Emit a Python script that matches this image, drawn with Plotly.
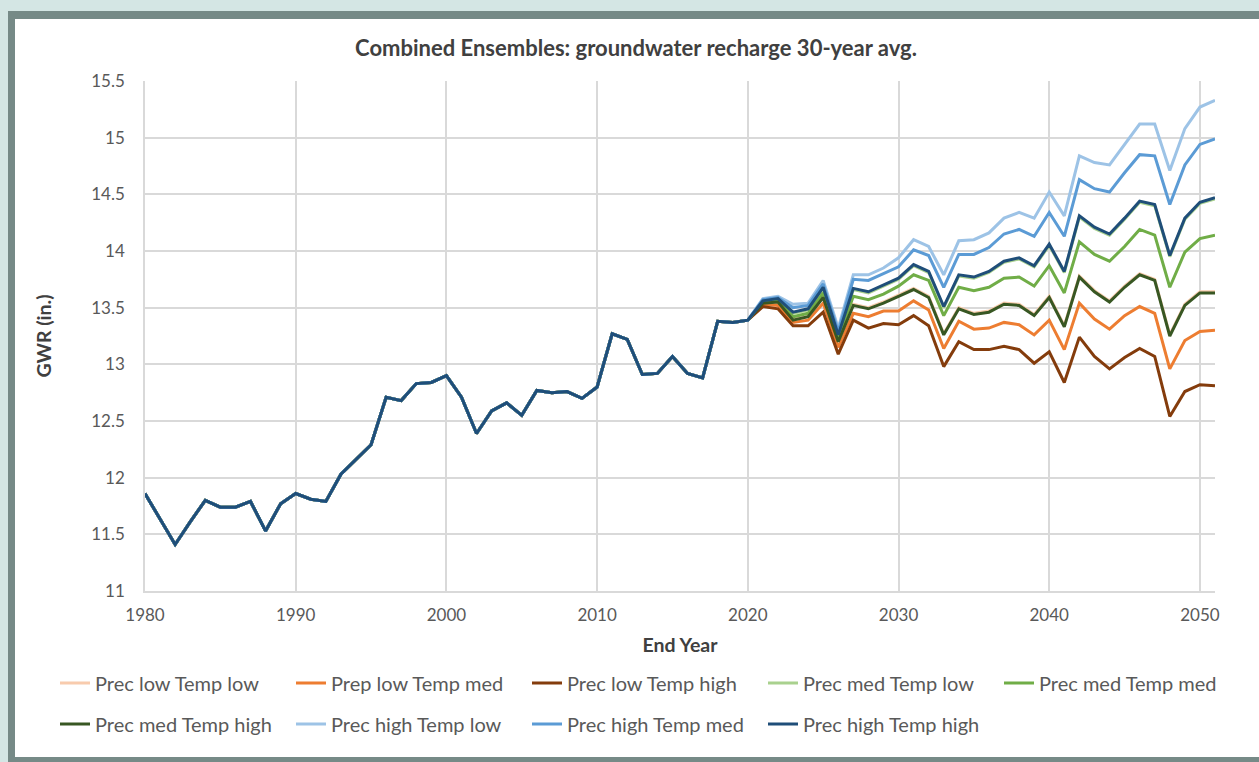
import plotly.graph_objects as go

# ---------------- data ----------------
hist_years = list(range(1980, 2021))
hist_values = [11.86, 11.64, 11.41, 11.61, 11.80, 11.74, 11.74, 11.79, 11.53, 11.77,
               11.86, 11.81, 11.79, 12.03, 12.16, 12.29, 12.71, 12.68, 12.83, 12.84,
               12.90, 12.71, 12.39, 12.59, 12.66, 12.55, 12.77, 12.75, 12.76, 12.70,
               12.80, 13.27, 13.22, 12.91, 12.92, 13.07, 12.92, 12.88, 13.38, 13.37,
               13.39]

future_years = list(range(2021, 2052))

prec_low_temp_low = [13.54, 13.55, 13.40, 13.42, 13.60, 13.21, 13.53, 13.50, 13.55, 13.61,
                     13.67, 13.60, 13.27, 13.50, 13.45, 13.47, 13.54, 13.53, 13.44, 13.60,
                     13.34, 13.78, 13.65, 13.56, 13.69, 13.80, 13.75, 13.26, 13.53, 13.64, 13.64]
prep_low_temp_med = [13.53, 13.52, 13.37, 13.39, 13.54, 13.15, 13.45, 13.42, 13.47, 13.47,
                     13.56, 13.48, 13.14, 13.38, 13.31, 13.32, 13.37, 13.35, 13.26, 13.39,
                     13.13, 13.54, 13.40, 13.31, 13.43, 13.51, 13.45, 12.96, 13.21, 13.29, 13.30]
prec_low_temp_high = [13.51, 13.49, 13.34, 13.34, 13.46, 13.09, 13.39, 13.32, 13.36, 13.35,
                      13.43, 13.34, 12.98, 13.20, 13.13, 13.13, 13.16, 13.13, 13.01, 13.11,
                      12.84, 13.24, 13.07, 12.96, 13.06, 13.14, 13.07, 12.54, 12.76, 12.82, 12.81]
prec_med_temp_low = [13.56, 13.57, 13.45, 13.48, 13.67, 13.25, 13.66, 13.63, 13.69, 13.75,
                     13.87, 13.81, 13.50, 13.78, 13.76, 13.81, 13.90, 13.93, 13.86, 14.05,
                     13.81, 14.30, 14.20, 14.14, 14.28, 14.43, 14.40, 13.95, 14.28, 14.42, 14.46]
prec_med_temp_med = [13.55, 13.57, 13.42, 13.45, 13.63, 13.23, 13.60, 13.57, 13.62, 13.69,
                     13.79, 13.74, 13.43, 13.68, 13.65, 13.68, 13.76, 13.77, 13.69, 13.87,
                     13.63, 14.08, 13.97, 13.91, 14.04, 14.19, 14.14, 13.68, 13.99, 14.11, 14.14]
prec_med_temp_high = [13.54, 13.55, 13.39, 13.42, 13.59, 13.20, 13.52, 13.49, 13.54, 13.60,
                      13.66, 13.59, 13.26, 13.49, 13.44, 13.46, 13.53, 13.52, 13.43, 13.59,
                      13.33, 13.77, 13.64, 13.55, 13.68, 13.79, 13.74, 13.25, 13.52, 13.63, 13.63]
prec_high_temp_low = [13.58, 13.60, 13.53, 13.54, 13.74, 13.32, 13.79, 13.79, 13.85, 13.94,
                      14.10, 14.04, 13.79, 14.09, 14.10, 14.16, 14.29, 14.34, 14.29, 14.52,
                      14.31, 14.84, 14.78, 14.76, 14.94, 15.12, 15.12, 14.71, 15.08, 15.27, 15.33]
prec_high_temp_med = [13.57, 13.59, 13.50, 13.52, 13.71, 13.29, 13.75, 13.74, 13.80, 13.86,
                      14.01, 13.96, 13.68, 13.97, 13.97, 14.03, 14.15, 14.19, 14.13, 14.34,
                      14.13, 14.63, 14.55, 14.52, 14.69, 14.85, 14.84, 14.41, 14.76, 14.94, 14.99]
prec_high_temp_high = [13.56, 13.58, 13.46, 13.49, 13.68, 13.26, 13.67, 13.64, 13.70, 13.76,
                       13.88, 13.82, 13.51, 13.79, 13.77, 13.82, 13.91, 13.94, 13.87, 14.06,
                       13.82, 14.31, 14.21, 14.15, 14.29, 14.44, 14.41, 13.96, 14.29, 14.43, 14.47]

series_names = ["Prec low Temp low", "Prep low Temp med", "Prec low Temp high",
                "Prec med Temp low", "Prec med Temp med", "Prec med Temp high",
                "Prec high Temp low", "Prec high Temp med", "Prec high Temp high"]
series_future = [prec_low_temp_low, prep_low_temp_med, prec_low_temp_high,
                 prec_med_temp_low, prec_med_temp_med, prec_med_temp_high,
                 prec_high_temp_low, prec_high_temp_med, prec_high_temp_high]
series_colors = ["#F8CBAD", "#ED7D31", "#843C0C",
                 "#A9D18E", "#70AD47", "#385723",
                 "#9DC3E6", "#5B9BD5", "#1F4E79"]

x_ticks = [1980, 1990, 2000, 2010, 2020, 2030, 2040, 2050]
y_ticks = [11, 11.5, 12, 12.5, 13, 13.5, 14, 14.5, 15, 15.5]

# ---------------- layout geometry (pixels) ----------------
W, H = 1259, 762
ML, MR, MT, MB = 145, 44, 81, 171
PW, PH = W - ML - MR, H - MT - MB


def px_x(p):
    return (p - ML) / PW


def px_y(p):
    return (H - MB - p) / PH


FONT = "Lato, 'Open Sans', sans-serif"
TXT = "#595959"
TTL = "#404040"

fig = go.Figure()
for i, (name, fut, col) in enumerate(zip(series_names, series_future, series_colors)):
    fig.add_trace(go.Scatter(
        x=hist_years + future_years,
        y=hist_values + fut,
        mode="lines",
        name=name,
        line=dict(color=col, width=3),
        legend="legend" if i < 5 else "legend2",
    ))

# frame shapes
shapes = [
    dict(type="rect", xref="paper", yref="paper", layer="below",
         x0=px_x(8), x1=px_x(W + 10), y0=px_y(H + 10), y1=px_y(11),
         fillcolor="#768A87", line=dict(width=0)),
    dict(type="rect", xref="paper", yref="paper", layer="below",
         x0=px_x(15), x1=px_x(W + 10), y0=px_y(757), y1=px_y(19),
         fillcolor="#FFFFFF", line=dict(width=0)),
]

legend_common = dict(
    orientation="h", xref="paper", yref="paper",
    xanchor="left", yanchor="middle",
    font=dict(family=FONT, size=20, color=TXT),
    bgcolor="rgba(0,0,0,0)", entrywidth=191, entrywidthmode="pixels",
    itemclick=False, itemdoubleclick=False,
)

fig.update_layout(
    width=W, height=H,
    margin=dict(l=ML, r=MR, t=MT, b=MB, autoexpand=False),
    paper_bgcolor="#D4E6E4",
    plot_bgcolor="rgba(0,0,0,0)",
    shapes=shapes,
    title=dict(text="<b>Combined Ensembles: groundwater recharge 30-year avg.</b>",
               x=636 / W, xref="container", xanchor="center",
               y=1 - 48 / H, yref="container", yanchor="middle",
               font=dict(family=FONT, size=22, color=TTL)),
    xaxis=dict(range=[1980, 2051], tickvals=x_ticks, showgrid=True,
               gridcolor="#D9D9D9", gridwidth=1.5, zeroline=False,
               showline=True, linecolor="#D9D9D9", linewidth=1.5,
               ticks="", ticklabelstandoff=8,
               tickfont=dict(family=FONT, size=17, color=TXT),
               title=dict(text="<b>End Year</b>", standoff=14,
                          font=dict(family=FONT, size=19.5, color=TTL))),
    yaxis=dict(range=[11, 15.5], tickvals=y_ticks, showgrid=True,
               gridcolor="#D9D9D9", gridwidth=1.5, zeroline=False,
               showline=True, linecolor="#D9D9D9", linewidth=1.5,
               ticks="", ticklabelstandoff=15,
               tickfont=dict(family=FONT, size=17, color=TXT),
               title=dict(text="<b>GWR (in.)</b>", standoff=34,
                          font=dict(family=FONT, size=19.5, color=TTL))),
    legend=dict(x=px_x(55), y=px_y(683), **legend_common),
    legend2=dict(x=px_x(55), y=px_y(724), **legend_common),
    hovermode=False,
)

fig.write_html(
    "out.html",
    config={"displayModeBar": False},
    post_script="document.body.style.margin='0';document.body.style.overflow='hidden';",
)
